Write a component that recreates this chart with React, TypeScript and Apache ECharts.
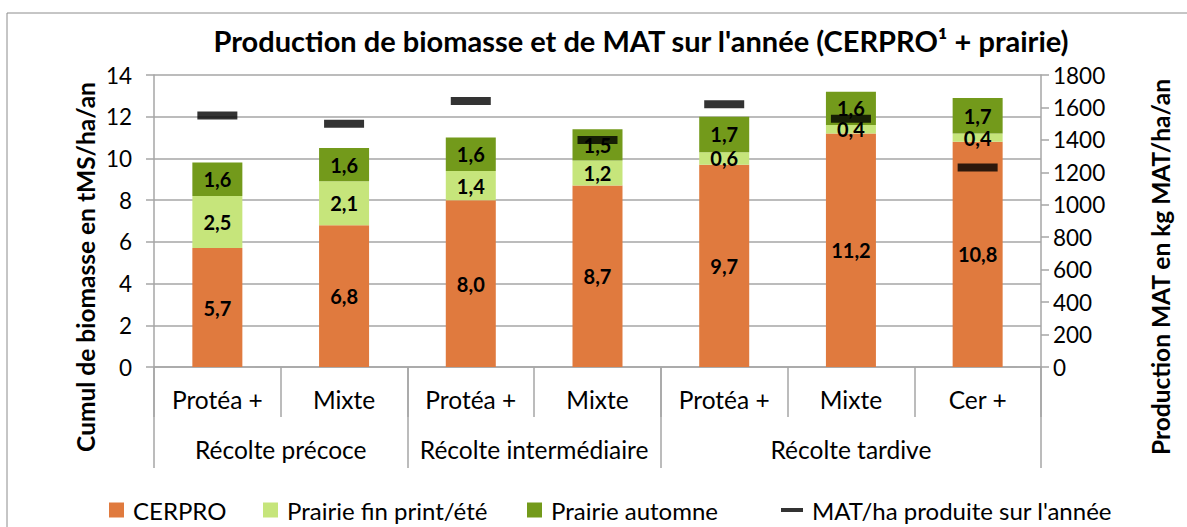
import React, { useEffect, useRef } from "react";
import * as echarts from "echarts";

const categories = ["Protéa +", "Mixte", "Protéa +", "Mixte", "Protéa +", "Mixte", "Cer +"];
const groups = ["Récolte précoce", "Récolte intermédiaire", "Récolte tardive"];
const groupBounds = [0, 2, 4, 7];
const groupCenters = [1, 3, 5.5];
const cerpro = [5.7, 6.8, 8.0, 8.7, 9.7, 11.2, 10.8];
const prairieEte = [2.5, 2.1, 1.4, 1.2, 0.6, 0.4, 0.4];
const prairieAutomne = [1.6, 1.6, 1.6, 1.5, 1.7, 1.6, 1.7];
const matAnnee = [1550, 1500, 1640, 1400, 1620, 1530, 1230];
const seriesNames = ["CERPRO", "Prairie fin print/été", "Prairie automne", "MAT/ha produite sur l'année"];
const leftAxisName = "Cumul de biomasse en tMS/ha/an";
const rightAxisName = "Production MAT en kg MAT/ha/an";

const FONT = "Lato";
const FS = 24.5;
const TICK_FS = 22.5;
const GRID_COLOR = "#A6A6A6";

const fmt = (p: any) => Number(p.value).toFixed(1).replace(".", ",");

export default function App() {
  const ref = useRef<HTMLDivElement>(null);
  useEffect(() => {
    const chart = echarts.init(ref.current!, null, { renderer: "svg" });
    const barLabel = {
      show: true,
      position: "inside",
      formatter: fmt,
      color: "#000",
      fontFamily: FONT,
      fontWeight: "bold",
      fontSize: 20,
    };
    const legendLefts = [104, 258, 522, 776];
    const legends = seriesNames.map((name, i) => ({
      left: legendLefts[i],
      top: 493,
      itemWidth: i === 3 ? 22 : 15,
      itemHeight: 15,
      textStyle: { fontFamily: FONT, fontSize: 24, color: "#000", padding: [0, 0, 0, 4] },
      data: [{ name, icon: i === 3 ? "path://M0,0 h22 v4 h-22 z" : "rect" }],
    }));
    chart.setOption({
      animation: false,
      backgroundColor: "#fff",
      textStyle: { fontFamily: FONT },
      title: {
        text: "Production de biomasse et de MAT sur l'année (CERPRO¹ + prairie)",
        left: 636,
        textAlign: "center",
        top: 21,
        textStyle: { fontFamily: FONT, fontWeight: "bold", fontSize: 29, color: "#000" },
      },
      graphic: [
        {
          type: "rect",
          shape: { x: 7, y: 13, width: 1200, height: 530 },
          style: { fill: "none", stroke: "#8C8C8C", lineWidth: 1 },
          silent: true,
        },
        {
          type: "text",
          x: 85,
          y: 267,
          rotation: Math.PI / 2,
          style: {
            text: leftAxisName,
            align: "center",
            verticalAlign: "middle",
            fontFamily: FONT,
            fontWeight: "bold",
            fontSize: FS,
            fill: "#000",
          },
        },
        {
          type: "text",
          x: 1160,
          y: 267,
          rotation: Math.PI / 2,
          style: {
            text: rightAxisName,
            align: "center",
            verticalAlign: "middle",
            fontFamily: FONT,
            fontWeight: "bold",
            fontSize: FS,
            fill: "#000",
          },
        },
      ],
      legend: legends,
      grid: { left: 154, right: 146, top: 75, bottom: 160 },
      xAxis: [
        {
          type: "category",
          data: categories,
          boundaryGap: true,
          axisLine: { lineStyle: { color: GRID_COLOR, width: 1.5 } },
          axisTick: { show: true, interval: 0, length: 50, lineStyle: { color: GRID_COLOR, width: 1.5 } },
          axisLabel: { interval: 0, margin: 20, fontFamily: FONT, fontSize: FS, color: "#000" },
        },
        {
          type: "value",
          min: 0,
          max: 7,
          position: "bottom",
          splitLine: { show: false },
          axisLine: { show: false },
          axisTick: {
            show: true,
            customValues: groupBounds,
            length: 101,
            lineStyle: { color: GRID_COLOR, width: 1.5 },
          },
          axisLabel: {
            customValues: groupCenters,
            margin: 70,
            fontFamily: FONT,
            fontSize: FS,
            color: "#000",
            formatter: (v: number) => groups[groupCenters.indexOf(v)] ?? "",
          },
        },
      ],
      yAxis: [
        {
          type: "value",
          min: 0,
          max: 14,
          interval: 2,
          axisLine: { show: true, lineStyle: { color: GRID_COLOR, width: 1.5 } },
          axisTick: { show: true, length: 8, lineStyle: { color: GRID_COLOR, width: 1.5 } },
          axisLabel: { margin: 22, fontFamily: FONT, fontSize: TICK_FS, color: "#000" },
          splitLine: { show: true, lineStyle: { color: GRID_COLOR, width: 1.5 } },
        },
        {
          type: "value",
          min: 0,
          max: 1800,
          interval: 200,
          position: "right",
          axisLine: { show: true, lineStyle: { color: GRID_COLOR, width: 1.5 } },
          axisTick: { show: true, length: 8, lineStyle: { color: GRID_COLOR, width: 1.5 } },
          axisLabel: {
            margin: 12,
            fontFamily: FONT,
            fontSize: TICK_FS,
            color: "#000",
            formatter: (v: number) => String(v),
          },
          splitLine: { show: false },
        },
      ],
      series: [
        {
          name: seriesNames[0],
          type: "bar",
          stack: "total",
          barWidth: 50,
          data: cerpro,
          itemStyle: { color: "#E07A3E" },
          label: barLabel,
        },
        {
          name: seriesNames[1],
          type: "bar",
          stack: "total",
          barWidth: 50,
          data: prairieEte,
          itemStyle: { color: "#C6E57B" },
          label: barLabel,
        },
        {
          name: seriesNames[2],
          type: "bar",
          stack: "total",
          barWidth: 50,
          data: prairieAutomne,
          itemStyle: { color: "#739A1B" },
          label: barLabel,
        },
        {
          name: seriesNames[3],
          type: "scatter",
          yAxisIndex: 1,
          symbol: "rect",
          symbolSize: [40, 8],
          itemStyle: { color: "#000" },
          data: matAnnee,
          z: 10,
        },
      ],
    });
    return () => chart.dispose();
  }, []);
  return (
    <div
      ref={ref}
      style={{ position: "fixed", left: 0, top: 0, width: 1187, height: 527 }}
    />
  );
}
